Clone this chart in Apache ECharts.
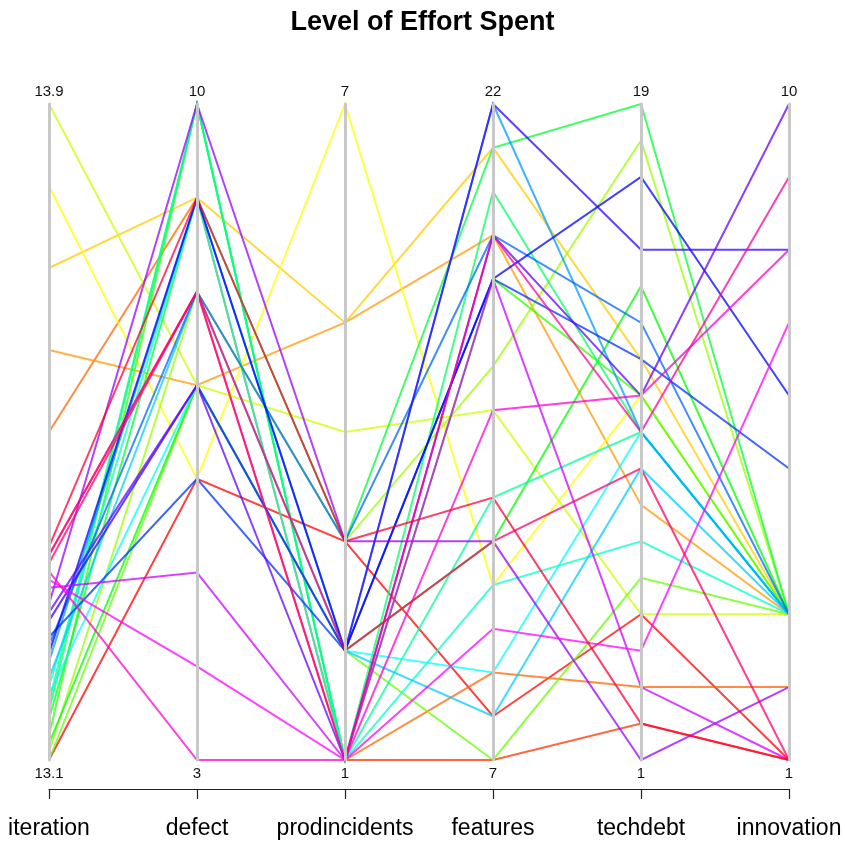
<!DOCTYPE html>
<html>
<head>
<meta charset="utf-8">
<script src="https://cdn.jsdelivr.net/npm/echarts@6/dist/echarts.min.js"></script>
<style>
  html, body { margin: 0; padding: 0; background: #fff; }
  #chart { width: 845px; height: 841px; }
</style>
</head>
<body>
<div id="chart"></div>
<script>
// ---- data ----
const dims = ['iteration', 'defect', 'prodincidents', 'features', 'techdebt', 'innovation'];
const axisMin = [13.1, 3, 1, 7, 1, 1];
const axisMax = [13.9, 10, 7, 22, 19, 10];

const iteration     = [13.10, 13.35, 13.50, 13.60, 13.70, 13.80, 13.90, 13.11, 13.10, 13.13, 13.12, 13.15, 13.16, 13.17, 13.19, 13.18, 13.20, 13.22, 13.24, 13.25, 13.23, 13.27, 13.28, 13.29, 13.31, 13.32, 13.33, 13.35, 13.34, 13.36];
const defect        = [6, 8, 9, 7, 9, 6, 7, 8, 7, 10, 7, 9, 10, 10, 9, 7, 8, 9, 8, 6, 9, 7, 7, 10, 5, 4, 3, 8, 8, 9];
const prodincidents = [3, 1, 1, 5, 5, 7, 4, 3, 2, 1, 2, 3, 1, 1, 1, 2, 2, 2, 3, 2, 2, 2, 1, 3, 1, 1, 1, 1, 2, 3];
const features      = [8, 7, 9, 19, 21, 11, 15, 16, 7, 18, 12, 21, 20, 13, 11, 9, 8, 22, 19, 18, 18, 22, 19, 12, 18, 10, 15, 19, 12, 13];
const techdebt      = [5, 2, 3, 8, 12, 11, 5, 18, 6, 11, 14, 19, 10, 10, 7, 10, 9, 10, 13, 12, 17, 15, 11, 1, 3, 4, 11, 10, 9, 2];
const innovation    = [1, 1, 2, 3, 3, 3, 3, 3, 3, 3, 3, 3, 3, 3, 3, 3, 3, 3, 3, 5, 6, 8, 10, 2, 1, 7, 8, 9, 1, 1];

// ---- build ----
const n = iteration.length;
function rainbow(i) {
  const h = (i / n) * 360;
  return 'hsl(' + h.toFixed(1) + ',100%,50%)';
}
const columns = [iteration, defect, prodincidents, features, techdebt, innovation];
const rows = [];
for (let i = 0; i < n; i++) {
  rows.push({
    value: columns.map(c => c[i]),
    lineStyle: { color: rainbow(i) }
  });
}

const FONT = '"Liberation Sans", Arial, Helvetica, sans-serif';

const parallelAxis = dims.map((d, k) => ({
  dim: k,
  min: axisMin[k],
  max: axisMax[k],
  name: String(axisMax[k]),
  nameLocation: 'end',
  nameGap: 5,
  nameTextStyle: { fontSize: 15, color: '#111', fontFamily: FONT },
  axisLine: { show: true, lineStyle: { color: '#c8c8c8', width: 3 } },
  axisTick: { show: false },
  splitLine: { show: false },
  axisLabel: {
    show: true,
    showMinLabel: true,
    showMaxLabel: false,
    margin: 0,
    align: 'center',
    verticalAlign: 'top',
    padding: [6, 0, 0, 0],
    fontSize: 15,
    color: '#111',
    fontFamily: FONT,
    formatter: function (v) {
      return Math.abs(v - axisMin[k]) < 1e-6 ? String(axisMin[k]) : '';
    }
  }
}));

const chart = echarts.init(document.getElementById('chart'), null, { renderer: 'canvas' });
chart.setOption({
  animation: false,
  backgroundColor: '#fff',
  title: {
    text: 'Level of Effort Spent',
    left: 'center',
    top: 4,
    textStyle: { fontSize: 27, fontWeight: 'bold', color: '#000', fontFamily: FONT }
  },
  parallel: {
    left: 49,
    right: 56,
    top: 104,
    bottom: 81,
    layout: 'horizontal'
  },
  parallelAxis: parallelAxis,
  grid: { left: 49, right: 56, top: 104, bottom: 52, show: false },
  xAxis: {
    type: 'category',
    data: dims,
    boundaryGap: false,
    position: 'bottom',
    axisLine: { show: true, lineStyle: { color: '#222', width: 1.2 } },
    axisTick: { show: true, length: 10, interval: 0, lineStyle: { color: '#222', width: 1.2 } },
    axisLabel: { interval: 0, fontSize: 23, color: '#000', margin: 28, fontFamily: FONT },
    splitLine: { show: false }
  },
  yAxis: { type: 'value', show: false, min: 0, max: 1 },
  series: [{
    type: 'parallel',
    silent: true,
    smooth: false,
    lineStyle: { width: 2, opacity: 0.75 },
    emphasis: { disabled: true },
    inactiveOpacity: 0.75,
    activeOpacity: 0.75,
    data: rows
  }]
});
</script>
</body>
</html>
